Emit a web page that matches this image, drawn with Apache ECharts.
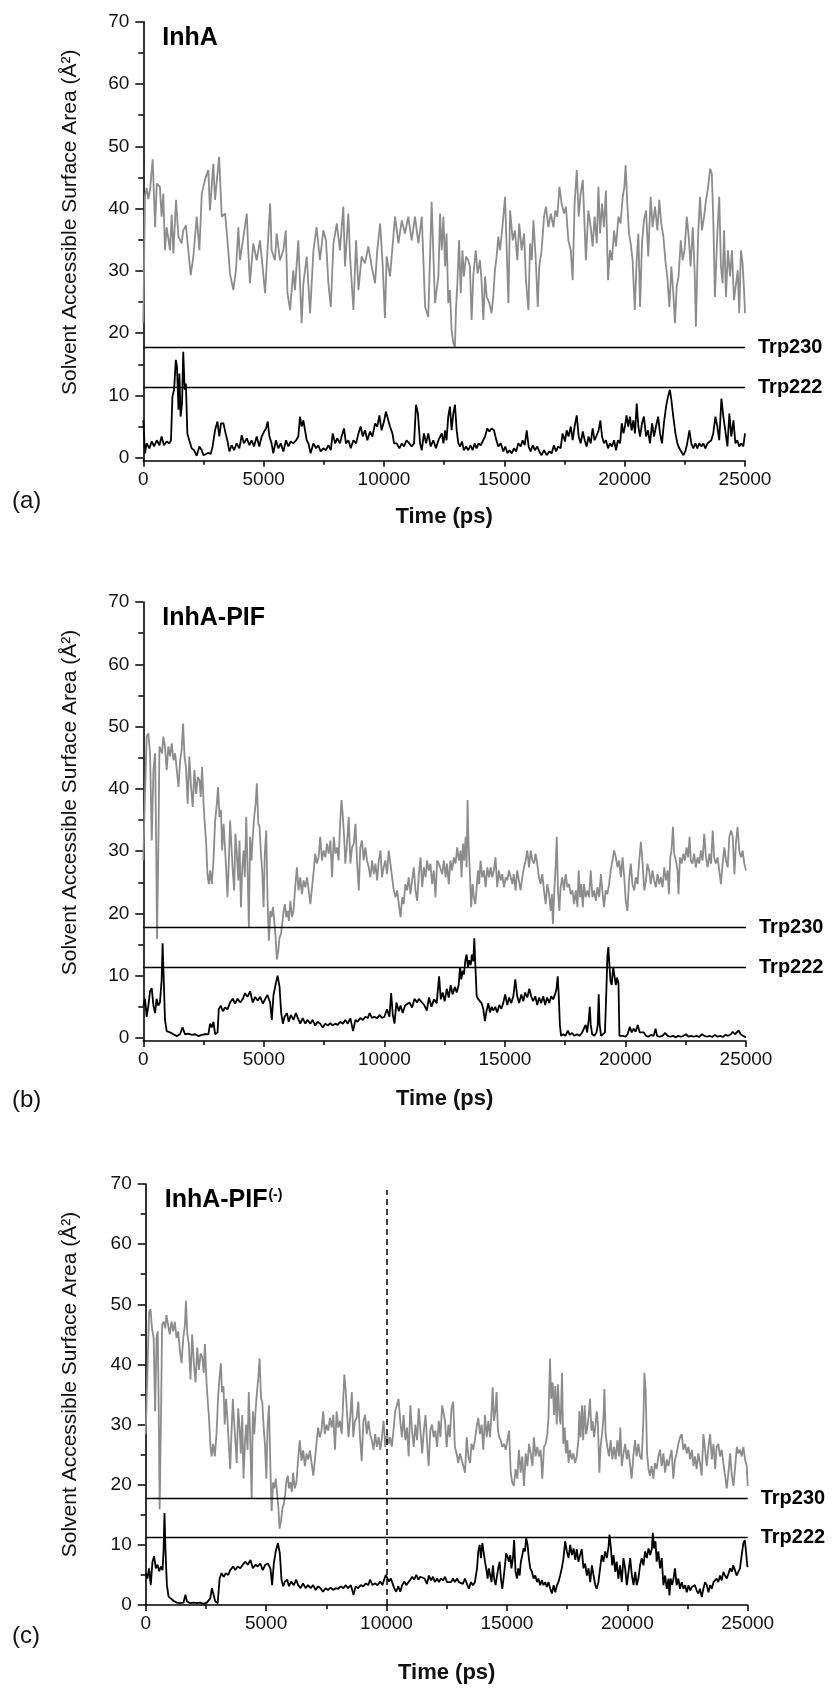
<!DOCTYPE html>
<html>
<head>
<meta charset="utf-8">
<script src="https://cdn.jsdelivr.net/npm/echarts@6/dist/echarts.min.js"></script>
<style>
  html, body { margin: 0; padding: 0; background: #ffffff; }
  #chart { width: 835px; height: 1696px; }
</style>
</head>
<body>
<div id="chart"></div>
<script>
// Solvent accessible surface area of the two Trp residues over a 25 ns trajectory,
// for InhA, InhA-PIF and InhA-PIF(-). Grey = Trp230, black = Trp222.
const FONT = "'Liberation Sans', Arial, Helvetica, sans-serif";

const yLabelValues = [0, 10, 20, 30, 40, 50, 60, 70];
const yMinorValues = [5, 15, 25, 35, 45, 55, 65];
const trpNames = ['Trp230', 'Trp222'];
const trpLevels = [17.7, 11.3];
const panelTitles = ['InhA', 'InhA-PIF', 'InhA-PIF'];
const panelTags = ['(a)', '(b)', '(c)'];
const markerTime = 10000;   // dashed marker in panel (c)
const markerTop = 69;

// [time (ps), SASA (Å²)]
const grayA = [[0,21.6],[70,42],[140,43.3],[210,41.5],[280,43],[390,47.9],[490,37],[560,44],[690,43.5],[760,38.7],[830,42.4],[900,33.3],[970,37],[1110,33.3],[1180,39],[1250,32.8],[1360,41.4],[1460,35.5],[1590,34.4],[1660,36.5],[1770,37.3],[1870,33.3],[1970,29.3],[2080,32.3],[2220,38.7],[2330,33.3],[2430,42.4],[2560,44.6],[2700,46.2],[2770,39.7],[2910,47.2],[2980,41.4],[3150,48.3],[3260,38.7],[3400,39.2],[3530,33.3],[3600,29.6],[3740,26.9],[3850,30.1],[3950,37],[4020,31.7],[4160,35.5],[4300,39.2],[4360,33.3],[4430,28],[4570,34.4],[4710,31.7],[4850,34.9],[5060,26.4],[5270,40.8],[5330,33.3],[5470,31.7],[5540,36],[5680,31.7],[5820,33.3],[5920,36.5],[5990,26.4],[6100,23.7],[6230,30.1],[6300,26.9],[6440,34.9],[6580,21.6],[6650,28],[6790,32.3],[6930,23.2],[7070,33.3],[7200,37],[7340,31.7],[7480,36.5],[7590,34.9],[7690,28],[7790,24.2],[7900,34.4],[8040,37.6],[8170,33.3],[8310,40.3],[8380,30.7],[8520,39.2],[8590,32.3],[8730,23.7],[8840,34.9],[8940,26.9],[9070,32.3],[9210,31.2],[9350,33.9],[9490,30.7],[9630,28],[9720,33.3],[9840,37.6],[9950,30.7],[10040,22.4],[10110,32.3],[10250,29.1],[10460,38.7],[10600,34.4],[10740,38.1],[10870,36],[11010,38.7],[11150,34.9],[11290,38.7],[11430,34.4],[11570,38.7],[11710,24.2],[11840,22.6],[11980,41.1],[12120,24.8],[12260,29.1],[12330,39.2],[12400,33.3],[12470,38.7],[12540,30.7],[12600,36],[12670,24.8],[12740,26.9],[12810,20.5],[12880,18.4],[12950,17.8],[12990,23.7],[13050,28],[13120,34.9],[13190,26.4],[13260,33.3],[13320,29.1],[13410,32.3],[13500,31.7],[13570,30.7],[13640,22.1],[13710,29.1],[13810,33.3],[13890,29.6],[13990,31.7],[14060,28],[14130,22.1],[14200,29.1],[14270,25.8],[14380,24.8],[14470,23.2],[14540,25.8],[14610,30.1],[14680,32.3],[14750,35.5],[14820,33.3],[14920,37],[15030,41.9],[15100,33.3],[15170,24.8],[15240,39.7],[15350,34.9],[15440,36.5],[15540,31.7],[15620,37.6],[15720,33.3],[15820,36],[15900,28.5],[16000,23.7],[16070,34.4],[16140,31.7],[16210,38.1],[16300,32.3],[16390,24.2],[16450,30.7],[16550,33.3],[16650,38.7],[16730,40.3],[16830,37],[16930,39.2],[17040,37],[17120,39.7],[17200,38.7],[17290,43.5],[17380,40.8],[17480,39.2],[17560,40.3],[17660,34.9],[17760,33.3],[17840,28.5],[17920,40.8],[18010,46.2],[18090,38.7],[18170,42.4],[18260,44.6],[18320,38.7],[18390,31.7],[18490,39.7],[18590,37],[18670,33.9],[18750,38.7],[18840,34.4],[18910,43.5],[18980,36],[19060,40.8],[19140,37],[19220,42.9],[19310,28.5],[19390,33.3],[19470,31.7],[19560,36.5],[19640,33.9],[19740,38.7],[19830,37.6],[19920,41.9],[19990,43.5],[20040,47],[20110,40.8],[20180,36],[20250,34.4],[20330,31.7],[20420,23.7],[20500,31.7],[20570,36],[20640,24.2],[20720,34.4],[20800,38.1],[20890,39.7],[20980,32.3],[21080,41.9],[21160,37],[21260,40.3],[21360,36.5],[21440,41.4],[21520,37.6],[21610,35.5],[21690,31.7],[21770,29.1],[21860,24.2],[21940,30.7],[22020,26.4],[22090,21.6],[22160,27.4],[22240,29.1],[22330,34.9],[22410,31.7],[22490,33.3],[22580,38.7],[22660,35.5],[22740,30.7],[22830,37],[22910,29.6],[22960,21],[23050,35.5],[23130,41.9],[23210,36.5],[23300,38.7],[23380,41.4],[23460,43.2],[23550,46.4],[23620,45.6],[23680,38.7],[23750,25.8],[23850,36],[23930,41.9],[24000,30.7],[24070,28],[24130,36.5],[24210,25.8],[24290,33.3],[24380,29.1],[24460,33.3],[24540,25.3],[24630,28],[24700,30.1],[24760,23.2],[24830,33.3],[24900,31.2],[24960,26.9],[25000,23.2]];

const blackA = [[0,6],[70,0.7],[140,2.3],[250,1.5],[350,2.6],[450,1.8],[560,2.8],[670,2],[760,3.4],[860,2],[970,2.6],[1080,2.3],[1150,2.8],[1210,9.8],[1280,10.9],[1350,15.7],[1400,14.6],[1460,7.7],[1500,13.5],[1550,6.6],[1610,8.7],[1660,17],[1720,10.9],[1770,11.9],[1830,3.9],[1910,2.8],[2010,1.5],[2110,1.2],[2220,0.3],[2330,1.8],[2430,1.2],[2500,0.4],[2610,0.6],[2700,0.8],[2800,0.6],[2880,1.8],[2980,4.4],[3080,5.8],[3160,3.4],[3230,5.5],[3330,5.5],[3420,3.9],[3490,2.8],[3580,1],[3670,2],[3770,1.2],[3880,2.3],[3990,1.5],[4090,3.6],[4180,2.3],[4300,3.1],[4410,2],[4500,2.8],[4600,1.8],[4710,3.4],[4820,1.8],[4920,3.4],[5020,4.2],[5100,4.7],[5170,5.8],[5240,3.4],[5330,2.3],[5400,0.7],[5510,2.8],[5610,1.5],[5710,2.3],[5820,1],[5930,2.8],[6030,1.8],[6120,2.6],[6230,2.3],[6350,2.8],[6440,3.4],[6510,6.6],[6580,5],[6650,6],[6720,5.8],[6790,2.8],[6860,2.3],[6950,0.7],[7070,2.3],[7180,1.5],[7270,2],[7370,1],[7480,1.5],[7590,1.2],[7690,2],[7790,1.2],[7870,3.9],[7970,2.3],[8060,3.1],[8170,2.3],[8240,3.4],[8340,4.7],[8420,2.3],[8520,2.8],[8620,1.5],[8730,2.8],[8840,2.3],[8940,3.9],[9030,5],[9120,3.4],[9210,4.4],[9310,2.8],[9420,4.2],[9520,3.4],[9630,5.5],[9720,5],[9810,6.8],[9900,4.4],[10000,5.8],[10080,7.4],[10150,7.1],[10250,5],[10350,3.9],[10420,2.3],[10530,2.3],[10640,1.5],[10740,2.3],[10830,1.8],[10940,2.8],[11050,2.3],[11150,1.8],[11250,2.3],[11330,8.5],[11410,7.1],[11500,2.3],[11570,1.2],[11660,3.9],[11750,2.3],[11840,3.9],[11940,1.8],[12050,2.8],[12160,1.5],[12260,2.8],[12400,3.9],[12470,2.3],[12540,4.4],[12600,2.8],[12670,6.6],[12740,8.2],[12810,4.4],[12880,7.1],[12950,8.5],[13020,4.4],[13090,2.3],[13160,1.8],[13240,2.6],[13320,1.2],[13410,1.8],[13500,1.2],[13600,2],[13680,1.2],[13770,2.3],[13850,1.5],[13930,2.3],[14020,2],[14100,1.8],[14200,3.4],[14290,4.7],[14380,4.2],[14470,4.7],[14570,4.4],[14650,3.1],[14750,1.8],[14850,2.3],[14960,1],[15040,1.8],[15130,0.7],[15210,1.2],[15310,0.7],[15400,1.5],[15490,1],[15580,2.3],[15680,1.8],[15760,2.8],[15850,2],[15930,4.4],[16010,1.8],[16090,1],[16180,2],[16270,1.2],[16370,1.8],[16450,1],[16550,0.4],[16650,1.2],[16760,0.4],[16870,1],[16970,0.7],[17060,2],[17150,1],[17240,1.8],[17340,1.5],[17420,3.9],[17520,2.6],[17590,4.4],[17670,3.4],[17760,5],[17840,2.8],[17920,5],[18010,6.8],[18090,3.4],[18170,2.3],[18260,4.2],[18340,2.8],[18420,1.8],[18500,3.4],[18590,2.3],[18670,4.7],[18750,2.8],[18840,3.6],[18920,4.4],[18990,6],[19060,3.4],[19140,2.3],[19220,2.8],[19310,1.5],[19390,2.3],[19470,1.8],[19560,2.8],[19640,1.2],[19720,2.8],[19810,2.3],[19880,5.5],[19950,3.9],[20010,5],[20080,6.8],[20150,5],[20220,6.6],[20290,4.4],[20360,6],[20430,3.9],[20500,8.7],[20570,5],[20640,3.4],[20720,5.5],[20800,6.6],[20890,3.4],[20970,4.4],[21050,2.3],[21140,5.5],[21220,3.4],[21300,5],[21390,6.6],[21470,3.9],[21550,2.3],[21630,5.5],[21720,8.2],[21800,9.8],[21880,10.9],[21940,9.3],[22020,6.6],[22110,3.9],[22190,2.3],[22270,1.5],[22350,1],[22440,0.4],[22520,1],[22600,2.3],[22690,4.4],[22770,2.3],[22850,1.5],[22940,2.3],[23020,1.5],[23100,2.3],[23190,1.8],[23270,2.3],[23350,1.5],[23440,2.3],[23520,2],[23600,2.8],[23680,3.9],[23770,6.6],[23850,5],[23930,2.8],[24020,9.5],[24100,6.6],[24180,4.4],[24270,1.8],[24350,7.1],[24430,3.4],[24520,6],[24600,2.3],[24680,2.8],[24760,1.8],[24850,2.3],[24930,1.8],[25000,3.9]];

const grayB = [[0,28.5],[60,37.6],[140,48.4],[210,48.9],[280,45.7],[350,31.7],[420,43],[490,45.7],[530,32.3],[570,15.9],[630,32.3],[670,46.8],[720,47],[780,45.7],[830,48.4],[900,46.8],[970,43],[1040,46.8],[1110,45.2],[1180,47.3],[1250,44.6],[1320,45.7],[1390,43],[1460,40.3],[1530,44.6],[1590,46.2],[1650,50.5],[1710,45.2],[1770,43.5],[1840,37.6],[1910,45.2],[1980,40.3],[2050,37.1],[2120,43],[2190,39.2],[2260,41.9],[2330,41.4],[2380,38.7],[2440,43.5],[2500,37.6],[2550,34.4],[2610,31.2],[2660,26.3],[2720,24.7],[2770,26.9],[2840,24.7],[2910,28.5],[2980,34.9],[3050,37.6],[3100,40.3],[3160,35.5],[3220,36.6],[3270,30.1],[3330,34.4],[3380,31.2],[3440,26.9],[3490,22.6],[3550,28.5],[3600,34.9],[3660,30.6],[3710,26.9],[3770,23.7],[3820,32.8],[3880,29.6],[3940,25.3],[3990,31.7],[4050,21],[4100,26.9],[4160,30.1],[4210,25.8],[4270,35.5],[4320,28],[4380,17.7],[4430,32.3],[4490,28.5],[4540,32.3],[4600,35.5],[4660,37.6],[4710,40.9],[4770,34.4],[4820,33.9],[4880,29.6],[4930,26.9],[4990,21],[5040,29.6],[5100,33.3],[5150,22.6],[5210,15.6],[5270,20.4],[5320,19.4],[5380,21],[5430,18.8],[5490,16.1],[5540,12.6],[5600,14],[5650,16.1],[5710,16.7],[5760,18.3],[5820,20.4],[5870,21.5],[5930,19.4],[5990,20.4],[6040,18.8],[6100,22],[6170,19.4],[6230,20.4],[6300,24.2],[6370,27.4],[6440,23.7],[6510,25.8],[6580,23.1],[6650,25.3],[6720,24.2],[6790,25.8],[6860,23.7],[6930,21.5],[7000,24.2],[7070,26.9],[7130,29.6],[7200,28],[7270,29],[7340,32.3],[7410,28.5],[7480,30.1],[7550,29],[7620,31.2],[7690,29.6],[7760,31.7],[7830,25.8],[7900,32.3],[7970,29.6],[8040,30.6],[8100,28.5],[8170,34.9],[8220,38.2],[8270,36],[8330,32.3],[8380,28],[8450,31.2],[8520,35.5],[8590,28],[8660,30.6],[8730,31.2],[8800,34.4],[8870,28],[8940,23.7],[9000,30.6],[9070,31.7],[9140,28.5],[9210,30.6],[9280,28.5],[9350,27.4],[9420,25.8],[9490,28.5],[9560,26.3],[9630,28],[9700,25.3],[9770,28.5],[9840,30.1],[9900,25.8],[9970,27.4],[10040,28.5],[10110,26.3],[10180,30.1],[10250,28],[10320,25.8],[10390,23.7],[10460,22.6],[10530,23.7],[10600,21.5],[10670,19.4],[10740,22.6],[10800,21.5],[10870,24.7],[10940,23.7],[11010,25.8],[11080,23.1],[11150,25.3],[11220,27.4],[11290,23.7],[11360,22],[11430,26.3],[11500,29],[11570,24.2],[11640,27.4],[11710,25.8],[11770,28.5],[11840,26.9],[11910,28],[11980,24.7],[12050,26.9],[12120,22.6],[12190,28.5],[12260,28],[12400,26.3],[12470,28.5],[12540,25.8],[12600,28],[12670,24.7],[12740,28.5],[12810,26.9],[12880,29],[12950,28],[13020,30.6],[13090,28.5],[13160,30.1],[13200,25.8],[13260,31.2],[13310,28.5],[13370,32.3],[13410,27.4],[13450,38.2],[13490,31.2],[13550,26.3],[13600,21],[13660,24.7],[13710,22.6],[13770,21.5],[13820,23.7],[13880,26.9],[13930,24.7],[13990,28.5],[14060,25.8],[14130,26.9],[14200,24.2],[14270,27.4],[14340,25.8],[14410,27.4],[14470,25.8],[14540,26.9],[14610,29],[14680,24.2],[14750,26.9],[14820,25.3],[14890,26.3],[14960,24.2],[15030,25.8],[15100,25.3],[15170,26.9],[15240,25.8],[15310,24.7],[15370,26.3],[15440,23.7],[15510,26.9],[15580,25.3],[15650,23.7],[15720,25.8],[15790,27.4],[15860,28.5],[15930,30.1],[16000,27.4],[16070,30.1],[16140,28.5],[16210,28],[16270,29.6],[16340,28],[16410,25.8],[16480,24.7],[16550,26.3],[16620,23.7],[16690,21.5],[16760,24.7],[16830,23.1],[16900,20.4],[16950,23.1],[16990,18.3],[17050,23.7],[17110,28],[17150,32.3],[17200,23.7],[17260,20.4],[17310,24.2],[17380,25.8],[17450,23.7],[17520,26.3],[17590,24.2],[17660,24.7],[17730,23.1],[17800,23.7],[17870,21.5],[17940,23.7],[18010,21],[18060,26.9],[18120,22.6],[18170,24.7],[18230,21],[18280,24.7],[18350,22.6],[18420,23.7],[18490,22.6],[18560,26.9],[18630,22.6],[18700,23.7],[18770,22],[18840,24.2],[18910,22.6],[18980,26.3],[19040,23.7],[19110,21],[19180,23.7],[19250,23.1],[19320,24.7],[19390,26.9],[19460,28.5],[19530,30.1],[19600,29],[19670,27.4],[19740,28.5],[19810,25.8],[19880,29],[19950,25.8],[20010,22],[20080,20.4],[20150,25.3],[20220,28],[20290,24.7],[20360,23.7],[20430,25.8],[20500,24.7],[20570,28.5],[20640,31.5],[20710,28],[20780,23.7],[20850,25.3],[20910,28],[20980,26.9],[21050,24.7],[21120,26.9],[21190,25.3],[21260,24.2],[21330,26.3],[21400,24.7],[21470,25.8],[21540,24.2],[21610,27.4],[21680,25.3],[21750,26.9],[21800,23.1],[21860,29],[21910,30.1],[21970,33.9],[22020,29.6],[22090,28.5],[22160,26.9],[22200,23.1],[22260,29],[22330,28],[22400,29.6],[22470,28.5],[22530,30.6],[22600,29],[22660,32.3],[22710,28.5],[22780,28],[22850,29.6],[22920,27.4],[22990,29],[23060,28],[23130,30.1],[23200,28.5],[23270,32.8],[23340,29],[23410,27.4],[23480,29.6],[23550,28],[23620,33.3],[23680,29],[23750,28],[23820,29],[23890,26.9],[23960,24.7],[24030,28],[24100,30.6],[24170,28.5],[24240,27.4],[24310,32.3],[24380,33.3],[24450,32.3],[24520,26.3],[24580,31.2],[24650,33.9],[24720,30.1],[24790,29],[24860,30.1],[24930,28],[25000,26.9]];

const blackB = [[0,5.2],[70,6.3],[140,3.4],[210,5.2],[280,7.5],[350,8],[420,5.2],[490,4],[550,6.3],[620,5.2],[690,5.7],[760,9.2],[800,15.2],[850,9.2],[900,2.9],[970,1.1],[1110,0.9],[1250,0.6],[1390,0.3],[1520,0.6],[1630,1.7],[1730,0.6],[1870,0.7],[2010,0.5],[2150,0.6],[2290,0.3],[2420,0.5],[2560,0.6],[2700,0.6],[2770,2.3],[2840,1.7],[2910,2.6],[2980,0.6],[3080,0.9],[3130,4.6],[3210,5.2],[3300,4.3],[3390,4.9],[3490,4.6],[3600,5.7],[3710,6.3],[3810,5.5],[3910,6.3],[4020,5.7],[4130,6.3],[4220,7.2],[4320,6.6],[4430,7.5],[4540,5.7],[4640,6.6],[4740,6],[4850,6.6],[4960,5.5],[5060,6.3],[5150,6.9],[5260,5.7],[5330,2.9],[5400,6.9],[5490,8.6],[5570,10],[5650,8.3],[5720,4],[5790,2.3],[5860,3.4],[5960,4],[6030,2.6],[6120,3.7],[6230,2.9],[6330,4],[6410,3.2],[6510,2.3],[6610,3.2],[6720,2.3],[6810,2.9],[6930,2.3],[7020,2.9],[7130,2],[7230,2.6],[7340,2.3],[7440,1.7],[7550,2.3],[7650,2],[7760,2.4],[7850,2],[7960,2.3],[8060,2.1],[8170,2.6],[8280,2.3],[8380,2.9],[8480,2.3],[8590,3.2],[8700,1.1],[8800,2.9],[8890,2.6],[9000,3.2],[9110,2.9],[9210,3.4],[9310,3.2],[9390,4],[9490,3.2],[9580,3.4],[9700,3.2],[9810,3.7],[9900,3.2],[10000,3.4],[10110,4.6],[10210,3.4],[10280,7.2],[10350,3.7],[10420,2.3],[10500,5.7],[10600,4.3],[10670,5.2],[10760,4],[10860,5.2],[10940,4.9],[11040,5.7],[11150,4.9],[11250,6.3],[11360,5.7],[11430,6.3],[11650,5.3],[11760,4.4],[11850,6.5],[11950,5],[12060,6.2],[12170,5.6],[12270,9.9],[12340,6.2],[12420,7.3],[12500,5.9],[12590,7.9],[12670,6.5],[12750,8.5],[12830,7],[12920,8.2],[13000,7.3],[13080,8.5],[13140,11.4],[13190,9.4],[13250,10.8],[13300,10.2],[13360,12.5],[13410,13.4],[13470,11.4],[13520,12.5],[13580,11.7],[13630,13.4],[13690,12.3],[13730,16],[13770,12],[13830,6.7],[13900,6.2],[13970,6.5],[14030,5.6],[14100,4.7],[14170,2.7],[14240,4.4],[14310,5.6],[14380,4.1],[14450,5],[14520,4.4],[14600,5],[14680,4.1],[14770,5.3],[14850,4.7],[14930,5.6],[15010,7],[15100,5.3],[15180,6.5],[15260,5.6],[15350,6.7],[15430,9.4],[15510,6.7],[15590,5.6],[15680,7],[15760,5.9],[15840,7.3],[15930,6.5],[16010,7.9],[16090,6.7],[16170,5.9],[16260,6.7],[16340,5.3],[16420,6.5],[16500,5.6],[16590,6.7],[16670,5.3],[16750,6.5],[16840,5.6],[16920,6.7],[17000,6.2],[17080,7],[17140,7.9],[17190,9.9],[17240,6.2],[17280,2.1],[17330,0.35],[17420,0.6],[17510,0.35],[17610,1.2],[17690,0.5],[17790,0.8],[17880,0.35],[18000,0.6],[18090,0.35],[18190,0.8],[18270,0.6],[18350,2.1],[18410,0.9],[18480,3],[18520,5],[18560,2.1],[18620,0.6],[18710,0.35],[18800,0.9],[18850,2.1],[18890,7],[18930,2.1],[18990,0.35],[19070,0.6],[19150,0.9],[19210,7.9],[19250,13.1],[19290,14.6],[19330,12],[19380,9.1],[19430,8.5],[19490,11.4],[19540,11.7],[19600,8.5],[19650,9.7],[19710,8.8],[19750,0.35],[19820,0.1],[19900,0.35],[20000,0.2],[20090,0.6],[20180,1.8],[20260,0.9],[20340,1.5],[20420,1],[20510,2.1],[20590,0.9],[20670,0.6],[20760,0.9],[20850,0.35],[20950,0.2],[21060,0.5],[21170,0.35],[21250,1.5],[21310,0.35],[21420,0.2],[21530,0.35],[21650,0.8],[21750,0.35],[21860,0.2],[21970,0.35],[22080,0.1],[22190,0.35],[22300,0.2],[22410,0.35],[22510,0.6],[22620,0.2],[22710,0.35],[22830,0.2],[22940,0.35],[23050,0.15],[23170,0.6],[23270,0.35],[23380,0.2],[23490,0.35],[23600,0.15],[23710,0.5],[23820,0.2],[23930,0.35],[24040,0.15],[24150,0.5],[24260,0.35],[24370,0.6],[24450,1],[24540,0.6],[24620,0.9],[24700,1.2],[24780,0.6],[24870,0.35],[25000,0.1]];

const grayC = [[0,28.4],[60,37],[140,48.7],[200,49.2],[260,46],[330,44.4],[390,32.2],[450,44.4],[500,45.5],[540,32.7],[580,15.9],[640,32.7],[680,46.6],[750,47.1],[810,46],[860,48.2],[930,46.6],[1000,45],[1070,47.1],[1140,45.5],[1210,47.1],[1280,44.4],[1350,45.5],[1420,42.3],[1490,40.2],[1560,44.4],[1630,46.6],[1670,50.6],[1730,45],[1790,43.4],[1860,37.5],[1930,45],[2000,40.2],[2070,37],[2140,42.8],[2210,39.1],[2280,41.8],[2350,41.2],[2410,38.6],[2460,43.4],[2520,37.5],[2570,34.3],[2630,31.1],[2690,26.3],[2740,24.7],[2800,26.8],[2870,24.7],[2940,28.4],[3010,34.8],[3060,37.5],[3120,40.2],[3170,35.4],[3230,36.4],[3280,30],[3340,34.3],[3390,31.1],[3450,26.8],[3510,22.6],[3560,28.4],[3620,34.3],[3670,30.6],[3730,26.8],[3780,23.6],[3840,32.7],[3900,29.5],[3950,25.2],[4010,31.6],[4060,21],[4120,26.8],[4170,30],[4230,25.8],[4280,35.4],[4340,27.9],[4400,17.8],[4450,32.2],[4510,28.4],[4560,32.2],[4620,35.4],[4670,37.5],[4730,41],[4790,34.3],[4840,33.8],[4900,29.5],[4950,26.8],[5010,21],[5060,29.5],[5120,33.2],[5180,22.6],[5230,15.6],[5290,20.4],[5340,19.4],[5400,21],[5450,18.8],[5510,16.2],[5560,12.7],[5620,14],[5680,16.2],[5730,16.7],[5790,18.3],[5840,20.4],[5900,21.5],[5950,19.4],[6010,20.4],[6070,18.8],[6120,22],[6190,19.4],[6260,20.4],[6330,24.2],[6400,27.4],[6470,24],[6540,25.7],[6610,23.1],[6680,25.2],[6750,24.2],[6820,25.7],[6890,23.6],[6960,21.5],[7030,24.2],[7090,26.8],[7160,29.5],[7230,27.9],[7300,29],[7370,32.2],[7440,28.4],[7510,30],[7580,29],[7650,31.1],[7720,29.5],[7790,31.6],[7860,25.8],[7930,32.2],[8000,29.5],[8070,30.6],[8140,28.4],[8210,34.8],[8250,38.3],[8300,35.9],[8360,32.2],[8420,27.9],[8490,31.1],[8560,35.4],[8620,27.9],[8690,30.6],[8760,31.1],[8830,33.8],[8900,27.9],[8970,23.9],[9040,30.6],[9110,31.6],[9180,28.4],[9250,30.6],[9320,28.4],[9390,27.4],[9460,25.8],[9530,28.4],[9600,26.3],[9670,27.9],[9740,25.8],[9810,27.9],[9880,30.6],[9950,26.3],[10020,28.4],[10090,26.8],[10150,27.9],[10220,26.3],[10290,29],[10360,32.2],[10430,33.2],[10500,34.3],[10570,30.6],[10640,27.9],[10710,31.6],[10780,27.4],[10850,29.5],[10920,24.7],[10990,33.2],[11060,29],[11130,26.3],[11200,30],[11270,27.4],[11340,32.7],[11410,29],[11480,25.2],[11550,29],[11620,31.6],[11680,27.4],[11750,23.1],[11820,29],[11890,30],[11960,27.9],[12030,29],[12100,26.3],[12170,30.6],[12240,27.9],[12310,33.2],[12430,30.6],[12500,26.3],[12570,30],[12630,27.9],[12700,32.7],[12770,33.8],[12840,26.3],[12910,25.2],[12980,23.6],[13050,25.2],[13120,24.2],[13190,23.1],[13260,22],[13330,27.9],[13400,24.7],[13470,23.6],[13530,26.8],[13600,25.8],[13670,27.4],[13740,29.5],[13810,31.1],[13880,28.4],[13950,30],[14020,25.8],[14090,31.6],[14160,27.9],[14230,30.6],[14300,27.9],[14370,32.7],[14410,36.2],[14460,30.6],[14520,32.2],[14570,35.4],[14630,29],[14680,27.9],[14740,27.4],[14810,26.3],[14880,26.8],[14950,25.8],[15020,27.4],[15090,29],[15160,22],[15220,20.4],[15290,19.8],[15360,22.6],[15430,21],[15500,25.8],[15570,22],[15640,24.7],[15710,19.8],[15780,25.2],[15850,23.1],[15920,26.8],[15990,25.2],[16060,23.1],[16120,27.9],[16190,24.7],[16260,26.3],[16330,24.7],[16400,25.8],[16470,21],[16540,26.3],[16610,26.8],[16680,28.4],[16730,31.6],[16790,41],[16840,34.3],[16900,37],[16960,31.6],[17010,36.4],[17070,30],[17120,36.7],[17180,31.6],[17230,30],[17290,38.6],[17340,26.8],[17400,29.5],[17450,25.2],[17510,27.4],[17560,23.6],[17620,25.8],[17690,24.2],[17760,25.2],[17830,23.6],[17900,24.7],[17970,27.4],[18010,32.2],[18060,27.9],[18120,33.2],[18170,27.4],[18230,33.2],[18290,28.4],[18340,29.5],[18400,31.6],[18450,34.3],[18510,29],[18560,30.6],[18620,27.9],[18670,29.5],[18730,32.2],[18780,30],[18840,22],[18890,26.3],[18950,28.4],[19010,31.1],[19050,35.9],[19100,28.4],[19170,26.3],[19240,24.7],[19310,27.4],[19380,24.2],[19450,26.3],[19520,24.2],[19590,27.4],[19660,24.7],[19710,29.5],[19770,23.1],[19840,25.2],[19910,26.8],[19980,24.2],[20040,25.8],[20110,23.6],[20180,21],[20250,24.7],[20320,27.4],[20390,24.7],[20460,26.8],[20530,24.7],[20600,24.2],[20670,31.1],[20710,38.6],[20760,35.9],[20820,25.2],[20880,22.6],[20940,21.5],[21010,23.1],[21080,21],[21150,23.6],[21220,22.6],[21290,24.7],[21360,25.8],[21430,23.1],[21500,25.2],[21570,22],[21640,24.2],[21710,23.1],[21780,24.7],[21840,25.8],[21910,21],[21980,24.2],[22050,25.2],[22120,26.8],[22190,27.9],[22260,28.4],[22330,25.8],[22400,26.8],[22470,25.2],[22540,26.3],[22610,24.2],[22680,25.8],[22750,23.1],[22810,24.7],[22880,22.6],[22950,25.2],[23020,23.6],[23090,21.5],[23160,28.4],[23230,25.8],[23300,23.1],[23370,26.3],[23440,28.4],[23510,24.2],[23580,26.8],[23650,22.6],[23710,26.3],[23780,26.8],[23850,24.7],[23920,25.8],[23990,23.6],[24060,21.5],[24130,19.4],[24200,22],[24270,25.2],[24340,21.5],[24410,19.8],[24480,23.1],[24550,26.3],[24610,25.2],[24680,25.8],[24750,24.7],[24820,26.3],[24890,24.2],[24960,23.1],[25000,19.8]];

const blackC = [[0,5.3],[70,4.4],[140,6.1],[210,3.3],[280,7.2],[350,8.1],[420,6.1],[490,6.7],[560,5.6],[630,6.4],[700,5.8],[740,8.9],[780,15.3],[820,9.4],[880,3.3],[950,1.4],[1040,1.1],[1150,0.7],[1290,0.4],[1430,0.3],[1570,0.4],[1650,1.7],[1710,0.6],[1850,0.3],[1990,0.4],[2130,0.3],[2260,0.4],[2400,0.2],[2540,0.4],[2680,1.1],[2750,2.8],[2820,2.5],[2890,0.6],[2990,0.3],[3070,4.4],[3150,5.3],[3240,4.7],[3330,5.3],[3430,5],[3510,5.8],[3630,6.4],[3720,5.8],[3820,6.4],[3930,6.1],[4030,6.7],[4140,7.2],[4240,6.7],[4350,7.5],[4450,6.1],[4560,6.7],[4650,6.4],[4760,6.9],[4860,5.8],[4970,6.7],[5070,6.9],[5180,6.1],[5250,3.3],[5320,6.9],[5400,8.9],[5490,10.3],[5570,8.6],[5640,4.2],[5710,3.1],[5780,3.9],[5880,4.2],[5950,3.1],[6040,3.9],[6150,3.3],[6250,4.2],[6330,3.3],[6430,2.8],[6530,3.6],[6640,2.8],[6740,3.3],[6850,2.8],[6950,3.3],[7060,2.5],[7150,3.1],[7260,2.8],[7360,2.2],[7470,2.8],[7570,2.5],[7680,2.9],[7780,2.5],[7890,2.8],[7990,2.7],[8100,3.1],[8210,2.8],[8310,3.3],[8400,2.8],[8520,3.3],[8630,1.7],[8720,3.1],[8820,2.8],[8930,3.3],[9040,3.1],[9140,3.6],[9240,3.3],[9320,4.2],[9420,3.3],[9520,3.6],[9630,3.3],[9740,3.9],[9830,3.3],[9900,4.2],[9970,5],[10040,4.4],[10110,3.9],[10180,4.4],[10250,3.6],[10320,2.8],[10400,2.2],[10490,3.1],[10570,2.2],[10650,3.3],[10740,3.9],[10820,3.3],[10900,3.6],[10990,4.2],[11070,4.7],[11150,4.2],[11240,5],[11320,4.2],[11400,4.7],[11580,4.4],[11680,3.5],[11760,4.9],[11850,4.1],[11930,4.7],[12010,3.8],[12100,4.4],[12180,3.8],[12260,4.4],[12350,4.1],[12430,4.7],[12510,3.8],[12590,4.1],[12680,3.8],[12760,4.4],[12840,3.8],[12930,4.4],[13010,3.8],[13090,4.1],[13170,3.5],[13260,4.4],[13340,3.5],[13420,2.7],[13510,3.8],[13590,3.3],[13670,3.8],[13760,6.1],[13810,8.9],[13870,10],[13920,7.8],[13980,10.3],[14030,8.9],[14090,7.2],[14140,6.1],[14200,4.4],[14250,6.1],[14310,4.9],[14360,3.8],[14420,6.6],[14470,4.4],[14530,3.3],[14590,4.9],[14640,6.1],[14700,7.2],[14750,4.4],[14810,2.7],[14860,4.4],[14920,6.6],[14970,8.6],[15030,8],[15080,7.2],[15140,8.3],[15190,6.1],[15250,7.8],[15300,10.8],[15360,5.5],[15420,4.4],[15470,6.1],[15530,4.9],[15580,7.2],[15640,8.3],[15690,9.4],[15750,8.9],[15800,11.1],[15860,10],[15910,7.8],[15970,6.1],[16040,5.5],[16110,4.4],[16180,4.9],[16250,3.8],[16310,4.4],[16380,3.3],[16450,4.1],[16520,3.3],[16590,3.8],[16660,3],[16730,3.8],[16800,2.7],[16870,1.9],[16940,3.3],[17010,2.1],[17080,3.3],[17140,3.8],[17210,4.9],[17280,6.1],[17350,7.8],[17420,10.6],[17490,8.9],[17560,7.8],[17630,10],[17700,8.3],[17770,9.4],[17840,7.5],[17900,9.3],[17970,7.2],[18040,8.3],[18110,9.3],[18180,6.1],[18250,6.9],[18320,4.9],[18390,6.1],[18460,3.8],[18530,6.6],[18600,4.9],[18670,3.3],[18730,2.7],[18800,3.8],[18870,6.1],[18940,8.3],[19010,7.2],[19080,8.9],[19150,7.8],[19220,9.7],[19260,11.7],[19320,9.4],[19370,6.6],[19430,8.3],[19500,5.5],[19560,7.2],[19630,4.4],[19700,6.6],[19770,3.8],[19840,7.8],[19910,6.1],[19980,3.3],[20050,5.5],[20120,7.8],[20190,4.9],[20260,3.3],[20330,5.5],[20390,3.3],[20460,4.4],[20530,6.6],[20600,7.8],[20670,6.6],[20740,8.9],[20810,7.8],[20880,9.4],[20950,8.3],[21020,9.4],[21060,12],[21110,9.4],[21170,10.6],[21220,7.2],[21290,8.9],[21360,6.1],[21430,7.8],[21500,3.3],[21570,4.9],[21640,2.7],[21710,4.4],[21750,1.6],[21800,4.4],[21860,3.3],[21920,4.4],[21980,6.1],[22050,3.3],[22120,4.4],[22190,2.7],[22260,3.8],[22330,2.7],[22400,3.3],[22470,2.1],[22540,3.3],[22610,2.4],[22680,3],[22750,2.7],[22810,3.3],[22880,2.4],[22950,1.9],[23020,2.7],[23090,1.3],[23160,2.7],[23230,3.8],[23300,3.3],[23370,2.1],[23440,3.3],[23510,2.7],[23580,3.8],[23640,3.5],[23710,4.4],[23780,3.8],[23850,4.9],[23920,4.1],[23990,5.5],[24060,4.9],[24130,4.4],[24200,5.2],[24270,6.1],[24340,5.5],[24400,6.6],[24470,5.8],[24540,4.9],[24610,5.5],[24680,6.1],[24750,8.3],[24820,10.3],[24880,10.8],[24930,8.9],[24980,6.6],[25000,6.3]];

// panel frames (pixels), y-axis floor and the rows of the texts under each panel
const frames = [
  { left: 143.3, top: 21.7, width: 601.7, height: 439.1, yMin: -0.5, tagY: 501,  timeY: 517 },
  { left: 143.3, top: 602,  width: 602.7, height: 439.1, yMin: -0.5, tagY: 1100, timeY: 1099 },
  { left: 145.7, top: 1184, width: 602,   height: 421,   yMin: 0,    tagY: 1636, timeY: 1673 }
];
const grayData = [grayA, grayB, grayC];
const blackData = [blackA, blackB, blackC];

const GRAY = '#8c8c8c';
const INK = '#000000';
const TEXT = '#111111';

const grids = [], xAxes = [], yAxes = [], series = [], graphics = [];

frames.forEach((f, i) => {
  grids.push({ left: f.left, top: f.top, width: f.width, height: f.height });

  xAxes.push({
    type: 'value', gridIndex: i, min: 0, max: 25000, interval: 5000,
    axisLine: { onZero: false, lineStyle: { color: INK, width: 1.6 } },
    axisTick: { inside: false, length: 6, lineStyle: { color: INK, width: 1.5 } },
    minorTick: { show: true, splitNumber: 2, length: 4, lineStyle: { color: INK, width: 1.5 } },
    axisLabel: { fontFamily: FONT, fontSize: 19, color: TEXT, margin: 9, formatter: v => String(v) },
    splitLine: { show: false }, minorSplitLine: { show: false }
  });

  // main y axis with labelled ticks
  yAxes.push({
    type: 'value', gridIndex: i, min: f.yMin, max: 70,
    axisLine: { show: true, onZero: false, lineStyle: { color: INK, width: 1.6 } },
    axisTick: { show: true, inside: false, length: 8, customValues: yLabelValues, lineStyle: { color: INK, width: 1.5 } },
    axisLabel: { customValues: yLabelValues, fontFamily: FONT, fontSize: 19, color: TEXT, margin: 14 },
    splitLine: { show: false }
  });
  // companion y axis carrying the short unlabelled ticks
  yAxes.push({
    type: 'value', gridIndex: i, min: f.yMin, max: 70, position: 'left',
    axisLine: { show: false, onZero: false },
    axisTick: { show: true, inside: false, length: 5, customValues: yMinorValues, lineStyle: { color: INK, width: 1.5 } },
    axisLabel: { show: false },
    splitLine: { show: false }
  });

  const grayLine = {
    type: 'line', xAxisIndex: i, yAxisIndex: 2 * i, data: grayData[i],
    showSymbol: false, symbol: 'none', animation: false, silent: true,
    lineStyle: { color: GRAY, width: 1.8 }, z: 2
  };
  if (i === 2) {
    grayLine.markLine = {
      silent: true, symbol: ['none', 'none'], animation: false,
      lineStyle: { color: INK, width: 1.5, type: [6, 4] },
      label: { show: false },
      data: [[{ coord: [markerTime, f.yMin] }, { coord: [markerTime, markerTop] }]]
    };
  }
  series.push(grayLine);

  series.push({
    type: 'line', xAxisIndex: i, yAxisIndex: 2 * i, data: blackData[i],
    showSymbol: false, symbol: 'none', animation: false, silent: true,
    lineStyle: { color: INK, width: 1.8 }, z: 3,
    markLine: {
      silent: true, symbol: ['none', 'none'], animation: false,
      lineStyle: { color: INK, width: 1.4, type: 'solid' },
      label: {
        show: true, position: 'end', distance: 13, formatter: '{b}',
        fontFamily: FONT, fontSize: 20, fontWeight: 'bold', color: INK
      },
      data: trpLevels.map((v, k) => ({ yAxis: v, name: trpNames[k] }))
    }
  });

  // y-axis title
  graphics.push({
    type: 'text', x: 70, y: f.top + 200.5, rotation: Math.PI / 2,
    style: {
      text: 'Solvent Accessible Surface Area (Å²)', fill: TEXT,
      font: '21px ' + FONT, textAlign: 'center', textVerticalAlign: 'middle'
    }
  });
  // x-axis title
  graphics.push({
    type: 'text', x: f.left + f.width / 2, y: f.timeY,
    style: {
      text: 'Time (ps)', fill: TEXT, font: 'bold 22px ' + FONT,
      textAlign: 'center', textVerticalAlign: 'middle'
    }
  });
  // panel tag
  graphics.push({
    type: 'text', x: 12, y: f.tagY,
    style: { text: panelTags[i], fill: TEXT, font: '24px ' + FONT, textAlign: 'left', textVerticalAlign: 'middle' }
  });
  // panel title
  graphics.push({
    type: 'text', x: f.left + 19, y: f.top + 16.5,
    style: i === 2 ? {
      text: '{m|' + panelTitles[i] + '}{s|(-)}',
      rich: {
        m: { font: 'bold 25px ' + FONT, fill: INK },
        s: { font: 'bold 14px ' + FONT, fill: INK, verticalAlign: 'top', padding: [0, 0, 8, 1] }
      },
      textAlign: 'left', textVerticalAlign: 'middle'
    } : {
      text: panelTitles[i], fill: INK, font: 'bold 25px ' + FONT,
      textAlign: 'left', textVerticalAlign: 'middle'
    }
  });
});

const chart = echarts.init(document.getElementById('chart'), null, { renderer: 'canvas' });
chart.setOption({
  backgroundColor: '#ffffff',
  animation: false,
  grid: grids,
  xAxis: xAxes,
  yAxis: yAxes,
  series: series,
  graphic: { elements: graphics }
});
</script>
</body>
</html>
